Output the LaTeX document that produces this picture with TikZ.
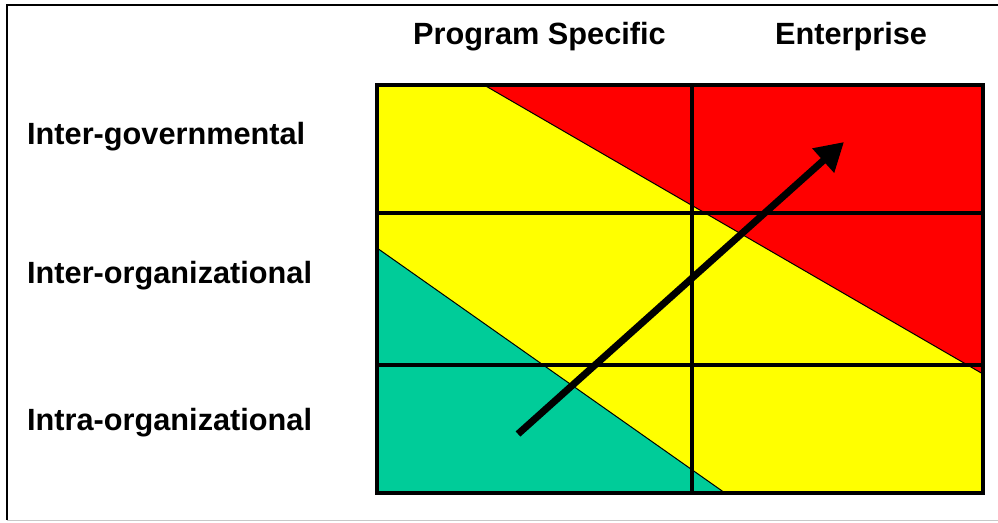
\documentclass[tikz,border=0pt]{standalone}
\usepackage{fontspec}
\setmainfont{Liberation Sans}
\usetikzlibrary{arrows.meta}
\definecolor{zonered}{RGB}{255,0,0}
\definecolor{zoneyellow}{RGB}{255,255,0}
\definecolor{zonegreen}{RGB}{0,204,153}
\definecolor{framegray}{RGB}{200,200,200}
\tikzset{
  heading/.style={anchor=base west, inner sep=0pt, font=\fontsize{30.7}{34}\selectfont\bfseries},
  gridline/.style={line width=3.2pt, black},
  zoneedge/.style={line width=1pt, black},
  trend/.style={line width=7pt, -{Triangle[length=28pt,width=31pt]}},
}
\begin{document}
\begin{tikzpicture}[x=1pt,y=-1pt]
\useasboundingbox (0,0) rectangle (998,522);
% outer frame
\draw[line width=2pt] (7,520) -- (7,5) -- (998,5);
\draw[framegray, line width=1pt] (7,520) -- (998,520);

% grid corners and dividers
\coordinate (tl) at (377,85);
\coordinate (br) at (983,493);
\coordinate (midx) at (692,0);
\coordinate (row1) at (0,213);
\coordinate (row2) at (0,365);

% background zone
\fill[zoneyellow] (tl) rectangle (br);
% high zone
\fill[zonered] (484,85) -- (983,85) -- (983,374) -- cycle;
\draw[zoneedge] (484,85) -- (983,374);
% low zone
\fill[zonegreen] (377,248) -- (725,493) -- (377,493) -- cycle;
\draw[zoneedge] (377,248) -- (725,493);

% grid
\draw[gridline] (midx |- tl) -- (midx |- br);
\draw[gridline] (row1 -| tl) -- (row1 -| br);
\draw[gridline] (row2 -| tl) -- (row2 -| br);
\draw[gridline] (tl) rectangle (br);

% trend arrow
\coordinate (start) at (518,434);
\coordinate (tip) at (844,142);
\draw[trend] (start) -- (tip);

% headings
\node[heading] (ps) at (413,44) {Program Specific};
\node[heading] (ent) at (775,44) {Enterprise};
\node[heading] (ig) at (27,144) {Inter-governmental};
\node[heading] (io) at (27,283) {Inter-organizational};
\node[heading] (intra) at (27,430) {Intra-organizational};
\end{tikzpicture}
\end{document}
